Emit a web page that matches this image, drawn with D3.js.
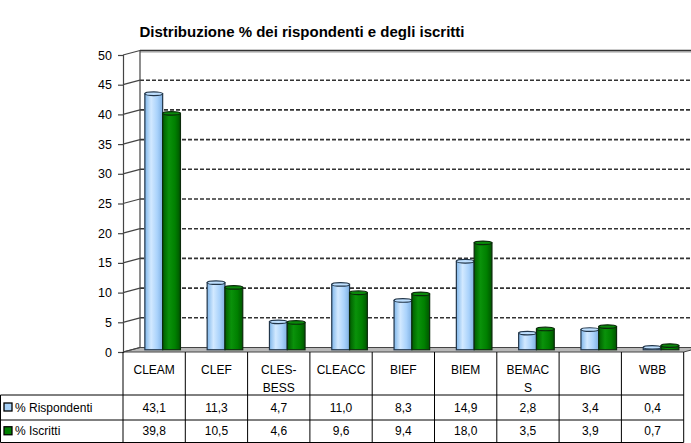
<!DOCTYPE html>
<html>
<head>
<meta charset="utf-8">
<script src="https://cdn.jsdelivr.net/npm/d3@7"></script>
<style>
  body { margin: 0; background: #fff; }
  svg { display: block; }
  .tbl text { font-family: "Comic Sans MS", "Liberation Sans", sans-serif; font-size: 12px; fill: #000; }
</style>
</head>
<body>
<div id="chart"></div>
<script>
// chart data
var categories = ["CLEAM", "CLEF", "CLES-BESS", "CLEACC", "BIEF", "BIEM", "BEMACS", "BIG", "WBB"];
var categoryLines = [["CLEAM"], ["CLEF"], ["CLES-", "BESS"], ["CLEACC"], ["BIEF"], ["BIEM"], ["BEMAC", "S"], ["BIG"], ["WBB"]];
var seriesNames = ["% Rispondenti", "% Iscritti"];
var rispondenti = [43.1, 11.3, 4.7, 11.0, 8.3, 14.9, 2.8, 3.4, 0.4];
var iscritti = [39.8, 10.5, 4.6, 9.6, 9.4, 18.0, 3.5, 3.9, 0.7];
var yTicks = [0, 5, 10, 15, 20, 25, 30, 35, 40, 45, 50];

var svgWidth = 691;
var svgHeight = 443;

// plot geometry (front plane) and 3D depth offset
var plot = { left: 123, right: 683.7, top: 55, bottom: 352 };
var depth = { dx: 17, dy: -4.5 };
var tableRows = { top: 352, row1: 395, row2: 420, bottom: 442.5 };

var svg = d3.select("#chart")
  .append("svg")
  .attr("width", svgWidth)
  .attr("height", svgHeight);

var defs = svg.append("defs");
function addGrad(id, stops) {
  var g = defs.append("linearGradient").attr("id", id)
    .attr("x1", "0%").attr("x2", "100%").attr("y1", "0%").attr("y2", "0%");
  stops.forEach(function(s) {
    g.append("stop").attr("offset", s[0]).attr("stop-color", s[1]);
  });
}
addGrad("gBlue", [["0%", "#7fb6ea"], ["35%", "#d2e9ff"], ["70%", "#a9d2fb"], ["100%", "#7fb0e2"]]);
addGrad("gGreen", [["0%", "#005c00"], ["35%", "#0a920a"], ["70%", "#008000"], ["100%", "#005500"]]);

var x = d3.scaleBand()
  .domain(categories)
  .range([plot.left, plot.right])
  .padding(0);

var xSub = d3.scaleBand()
  .domain(seriesNames)
  .range([0, x.bandwidth()])
  .paddingInner(0)
  .paddingOuter(0.75);

var y = d3.scaleLinear()
  .domain([0, 50])
  .range([plot.bottom, plot.top]);

// title
svg.append("text")
  .attr("x", 302)
  .attr("y", 37)
  .attr("text-anchor", "middle")
  .attr("font-family", "'Comic Sans MS', 'Liberation Sans', sans-serif")
  .attr("font-weight", "bold")
  .attr("font-size", "15px")
  .text("Distribuzione % dei rispondenti e degli iscritti");

var bx = plot.left + depth.dx;
var wallRight = svgWidth;

// floor
svg.append("path")
  .attr("d", "M" + plot.left + "," + y(0) + " L" + bx + "," + (y(0) + depth.dy) +
    " L" + (plot.right + depth.dx) + "," + (y(0) + depth.dy) + " L" + plot.right + "," + y(0) + "Z")
  .attr("fill", "#b8b8b8")
  .attr("stroke", "#444")
  .attr("stroke-width", 1);

// back wall gridlines
svg.append("g")
  .selectAll("line")
  .data(yTicks.filter(function(d) { return d > 0 && d < 50; }))
  .enter()
  .append("line")
  .attr("x1", bx)
  .attr("x2", wallRight)
  .attr("y1", function(d) { return y(d) + depth.dy; })
  .attr("y2", function(d) { return y(d) + depth.dy; })
  .attr("stroke", "#333")
  .attr("stroke-width", 1.6)
  .attr("stroke-dasharray", "4,2");

// back wall top border
svg.append("line")
  .attr("x1", bx).attr("x2", wallRight)
  .attr("y1", y(50) + depth.dy + 1.5).attr("y2", y(50) + depth.dy + 1.5)
  .attr("stroke", "#bbb").attr("stroke-width", 1.5);
svg.append("line")
  .attr("x1", bx).attr("x2", wallRight)
  .attr("y1", y(50) + depth.dy).attr("y2", y(50) + depth.dy)
  .attr("stroke", "#333").attr("stroke-width", 1.5);

// back wall left edge
svg.append("line")
  .attr("x1", bx).attr("x2", bx)
  .attr("y1", y(50) + depth.dy).attr("y2", y(0) + depth.dy)
  .attr("stroke", "#444").attr("stroke-width", 1.2);

// side wall lines at each tick
svg.append("g")
  .selectAll("line")
  .data(yTicks)
  .enter()
  .append("line")
  .attr("x1", plot.left)
  .attr("x2", bx)
  .attr("y1", function(d) { return y(d); })
  .attr("y2", function(d) { return y(d) + depth.dy; })
  .attr("stroke", "#444")
  .attr("stroke-width", 1.2);

// y axis (front)
var leftAxis = d3.axisLeft(y)
  .tickValues(yTicks)
  .tickSize(5)
  .tickPadding(6)
  .tickFormat(d3.format("d"));

var yAxis = svg.append("g")
  .attr("transform", "translate(" + plot.left + ",0)")
  .call(leftAxis);
yAxis.select(".domain").attr("stroke", "#444").attr("stroke-width", 1.2);
yAxis.selectAll(".tick line").attr("stroke", "#444").attr("stroke-width", 1.2);
yAxis.selectAll(".tick text")
  .attr("font-family", "'Liberation Sans', Arial, sans-serif")
  .attr("font-size", "12.5px")
  .attr("fill", "#000");

// bars (drawn at mid depth)
var mid = { dx: depth.dx / 2, dy: depth.dy / 2 };
var barData = [];
categories.forEach(function(c, i) {
  barData.push({ cat: c, series: seriesNames[0], value: rispondenti[i], fill: "url(#gBlue)", cap: "#bfe0ff", stroke: "#22364a" });
  barData.push({ cat: c, series: seriesNames[1], value: iscritti[i], fill: "url(#gGreen)", cap: "#0a8a0a", stroke: "#0b2a0b" });
});

var barGroups = svg.append("g")
  .selectAll("g")
  .data(barData)
  .enter()
  .append("g")
  .attr("transform", function(d) {
    return "translate(" + (x(d.cat) + xSub(d.series) + mid.dx) + "," + mid.dy + ")";
  });

barGroups.append("rect")
  .attr("x", 0)
  .attr("width", xSub.bandwidth())
  .attr("y", function(d) { return y(d.value); })
  .attr("height", function(d) { return y(0) - y(d.value); })
  .attr("fill", function(d) { return d.fill; })
  .attr("stroke", function(d) { return d.stroke; })
  .attr("stroke-width", 1.2);

barGroups.append("ellipse")
  .attr("cx", xSub.bandwidth() / 2)
  .attr("cy", function(d) { return y(d.value); })
  .attr("rx", xSub.bandwidth() / 2)
  .attr("ry", 1.8)
  .attr("fill", function(d) { return d.cap; })
  .attr("stroke", function(d) { return d.stroke; })
  .attr("stroke-width", 1.2);

// data table
var tbl = svg.append("g").attr("class", "tbl");
var edges = categories.map(function(c) { return x(c); }).concat([plot.right]);

// vertical lines of category columns
tbl.selectAll("line.v")
  .data(edges)
  .enter()
  .append("line")
  .attr("class", "v")
  .attr("x1", function(d) { return d; })
  .attr("x2", function(d) { return d; })
  .attr("y1", tableRows.top)
  .attr("y2", tableRows.bottom)
  .attr("stroke", "#000")
  .attr("stroke-width", 1);

// horizontal lines
[tableRows.row1, tableRows.row2, tableRows.bottom].forEach(function(yy) {
  tbl.append("line")
    .attr("x1", 0.5).attr("x2", plot.right)
    .attr("y1", yy).attr("y2", yy)
    .attr("stroke", "#000").attr("stroke-width", 1);
});
tbl.append("line")
  .attr("x1", 0.5).attr("x2", 0.5)
  .attr("y1", tableRows.row1).attr("y2", tableRows.bottom)
  .attr("stroke", "#000").attr("stroke-width", 1);

// category header labels
tbl.selectAll("text.cat")
  .data(categories)
  .enter()
  .append("text")
  .attr("class", "cat")
  .attr("text-anchor", "middle")
  .each(function(c, i) {
    var t = d3.select(this);
    categoryLines[i].forEach(function(line, k) {
      t.append("tspan")
        .attr("x", x(c) + x.bandwidth() / 2)
        .attr("y", 374 + k * 18)
        .text(line);
    });
  });

// series rows
var rows = [
  { name: seriesNames[0], values: rispondenti, color: "#a6d0f7", y0: tableRows.row1, y1: tableRows.row2 },
  { name: seriesNames[1], values: iscritti, color: "#008000", y0: tableRows.row2, y1: tableRows.bottom }
];
var fmt = function(v) { return d3.format(".1f")(v).replace(".", ","); };

rows.forEach(function(r) {
  var cy = (r.y0 + r.y1) / 2;
  tbl.append("rect")
    .attr("x", 4).attr("y", cy - 4.5)
    .attr("width", 8).attr("height", 8)
    .attr("fill", r.color)
    .attr("stroke", "#000").attr("stroke-width", 1.3);
  tbl.append("text")
    .attr("x", 15).attr("y", cy + 4)
    .text(r.name);
  tbl.selectAll(null)
    .data(categories)
    .enter()
    .append("text")
    .attr("text-anchor", "middle")
    .attr("x", function(c) { return x(c) + x.bandwidth() / 2; })
    .attr("y", cy + 4)
    .text(function(c, i) { return fmt(r.values[i]); });
});
</script>
</body>
</html>
